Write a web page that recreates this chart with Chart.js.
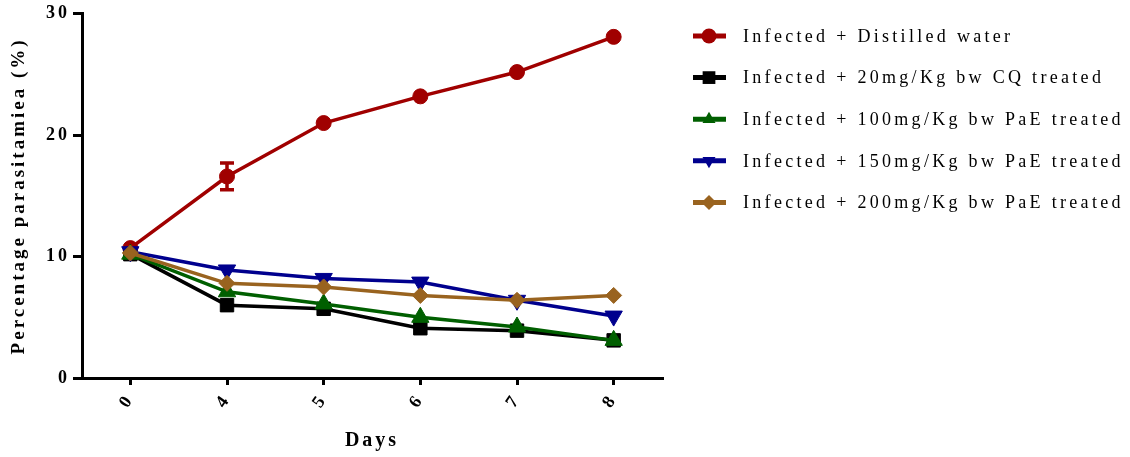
<!DOCTYPE html>
<html>
<head>
<meta charset="utf-8">
<script src="https://cdn.jsdelivr.net/npm/chart.js@4"></script>
<style>
  html, body { margin: 0; padding: 0; background: #fff; }
  #wrap { width: 1130px; height: 457px; }
</style>
</head>
<body>
<div id="wrap"><canvas id="graph"></canvas></div>
<script>
var days = ["0", "4", "5", "6", "7", "8"];
var seriesNames = [
  "Infected + Distilled water",
  "Infected + 20mg/Kg bw CQ treated",
  "Infected + 100mg/Kg bw PaE treated",
  "Infected + 150mg/Kg bw PaE treated",
  "Infected + 200mg/Kg bw PaE treated"
];
var distilledWater = [10.7, 16.6, 21.0, 23.2, 25.2, 28.1];
var distilledWaterErr = [0, 1.1, 0, 0, 0, 0];
var cq20 = [10.2, 6.0, 5.7, 4.1, 3.9, 3.1];
var pae100 = [10.2, 7.1, 6.1, 5.0, 4.2, 3.1];
var pae150 = [10.4, 8.9, 8.2, 7.9, 6.4, 5.1];
var pae200 = [10.3, 7.8, 7.5, 6.8, 6.4, 6.8];
var yTicks = [0, 10, 20, 30];

var colors = ["#a00000", "#000000", "#005f00", "#00008e", "#99631f"];
var styles = ["circle", "rect", "triangle", "triangle", "rectRot"];
var rotations = [0, 0, 0, 180, 0];
var radii = [7.5, 9.5, 10, 10, 8];
var values = [distilledWater, cq20, pae100, pae150, pae200];

var datasets = values.map(function (v, i) {
  return {
    label: seriesNames[i],
    data: v,
    borderColor: colors[i],
    backgroundColor: colors[i],
    borderWidth: 3.5,
    pointStyle: styles[i],
    rotation: rotations[i],
    pointRadius: radii[i],
    pointBorderWidth: 1,
    order: 4 - i
  };
});

// spaced-out letters like the original figure
var spacing = {
  id: "spacing",
  beforeInit: function (chart) { chart.ctx.letterSpacing = "3px"; },
  beforeLayout: function (chart) { chart.ctx.letterSpacing = "3px"; },
  beforeDraw: function (chart) { chart.ctx.letterSpacing = "3px"; }
};

var errorBars = {
  id: "errorBars",
  afterDatasetsDraw: function (chart) {
    var ctx = chart.ctx, x = chart.scales.x, y = chart.scales.y;
    ctx.save();
    ctx.strokeStyle = colors[0];
    ctx.lineWidth = 3.5;
    distilledWaterErr.forEach(function (e, i) {
      if (!e) return;
      var px = x.getPixelForValue(i);
      var top = y.getPixelForValue(distilledWater[i] + e);
      var bot = y.getPixelForValue(distilledWater[i] - e);
      ctx.beginPath();
      ctx.moveTo(px, top); ctx.lineTo(px, bot);
      ctx.moveTo(px - 7, top); ctx.lineTo(px + 7, top);
      ctx.moveTo(px - 7, bot); ctx.lineTo(px + 7, bot);
      ctx.stroke();
    });
    ctx.restore();
  }
};

var sideLegend = {
  id: "sideLegend",
  afterDraw: function (chart) {
    var ctx = chart.ctx;
    ctx.save();
    ctx.letterSpacing = "3.3px";
    ctx.font = "18px 'Liberation Serif'";
    ctx.textBaseline = "middle";
    chart.data.datasets.forEach(function (ds, i) {
      var yy = 36 + i * 41.6;
      ctx.strokeStyle = ds.borderColor;
      ctx.lineWidth = 5;
      ctx.beginPath();
      ctx.moveTo(693, yy); ctx.lineTo(726, yy);
      ctx.stroke();
      ctx.fillStyle = ds.backgroundColor;
      Chart.helpers.drawPoint(ctx, {pointStyle: ds.pointStyle, rotation: ds.rotation, radius: i == 1 ? 9 : 7.5, borderWidth: 0}, 709, yy);
      ctx.fillStyle = "#000";
      ctx.fillText(ds.label, 743, yy + 1);
    });
    ctx.restore();
  }
};

new Chart(document.getElementById("graph"), {
  type: "line",
  data: { labels: days, datasets: datasets },
  plugins: [spacing, errorBars, sideLegend],
  options: {
    responsive: true,
    maintainAspectRatio: false,
    animation: false,
    layout: { padding: { top: 8, right: 468, left: 0, bottom: 0 } },
    plugins: { legend: { display: false }, tooltip: { enabled: false } },
    scales: {
      x: {
        offset: true,
        grid: { offset: false, drawOnChartArea: false, color: "#000", lineWidth: 3, tickLength: 7 },
        border: { color: "#000", width: 3 },
        ticks: { color: "#000", font: { family: "Liberation Serif", size: 18, weight: "bold" }, minRotation: 55, maxRotation: 55, padding: 5 },
        title: { display: true, text: "Days", color: "#000", font: { family: "Liberation Serif", size: 20, weight: "bold" }, padding: { top: 2, bottom: 4 } },
        afterFit: function (s) { s.height = 79; }
      },
      y: {
        min: 0, max: 30,
        afterBuildTicks: function (s) { s.ticks = yTicks.map(function (v) { return { value: v }; }); },
        grid: { drawOnChartArea: false, color: "#000", lineWidth: 3, tickLength: 9 },
        border: { color: "#000", width: 3 },
        ticks: { color: "#000", font: { family: "Liberation Serif", size: 18, weight: "bold" }, padding: 3 },
        title: { display: true, text: "Percentage parasitamiea (%)", color: "#000", font: { family: "Liberation Serif", size: 19, weight: "bold" }, padding: { top: 8, bottom: 6 } },
        afterFit: function (s) { s.width = 82; }
      }
    }
  }
});
</script>
</body>
</html>
